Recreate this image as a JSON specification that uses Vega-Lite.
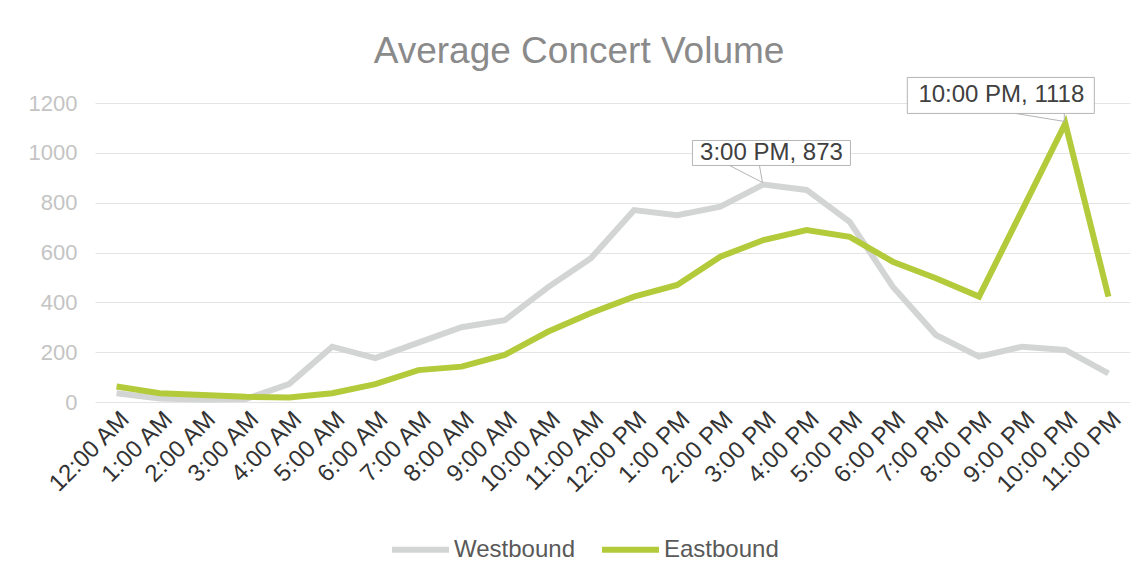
{
  "$schema": "https://vega.github.io/schema/vega-lite/v6.json",
  "width": 1145,
  "height": 585,
  "autosize": {"type": "fit", "contains": "padding"},
  "padding": {"left": 28, "top": 50, "right": 15, "bottom": 88},
  "background": "white",
  "config": {
    "font": "Liberation Sans",
    "view": {"stroke": null},
    "axis": {"gridColor": "#e4e4e4", "gridWidth": 1, "domain": false, "ticks": false}
  },
  "title": {
    "text": "Average Concert Volume",
    "fontSize": 37,
    "fontWeight": "normal",
    "color": "#8a8a8a",
    "font": "Liberation Sans",
    "anchor": "middle",
    "frame": "bounds",
    "offset": 4
  },
  "datasets": {
    "volume": [
      {"hour": "12:00 AM", "direction": "Westbound", "volume": 35},
      {"hour": "1:00 AM", "direction": "Westbound", "volume": 14},
      {"hour": "2:00 AM", "direction": "Westbound", "volume": 10},
      {"hour": "3:00 AM", "direction": "Westbound", "volume": 12},
      {"hour": "4:00 AM", "direction": "Westbound", "volume": 72},
      {"hour": "5:00 AM", "direction": "Westbound", "volume": 222},
      {"hour": "6:00 AM", "direction": "Westbound", "volume": 176},
      {"hour": "7:00 AM", "direction": "Westbound", "volume": 238},
      {"hour": "8:00 AM", "direction": "Westbound", "volume": 300},
      {"hour": "9:00 AM", "direction": "Westbound", "volume": 328},
      {"hour": "10:00 AM", "direction": "Westbound", "volume": 460},
      {"hour": "11:00 AM", "direction": "Westbound", "volume": 577},
      {"hour": "12:00 PM", "direction": "Westbound", "volume": 770},
      {"hour": "1:00 PM", "direction": "Westbound", "volume": 750},
      {"hour": "2:00 PM", "direction": "Westbound", "volume": 784},
      {"hour": "3:00 PM", "direction": "Westbound", "volume": 873},
      {"hour": "4:00 PM", "direction": "Westbound", "volume": 851},
      {"hour": "5:00 PM", "direction": "Westbound", "volume": 723},
      {"hour": "6:00 PM", "direction": "Westbound", "volume": 463},
      {"hour": "7:00 PM", "direction": "Westbound", "volume": 269},
      {"hour": "8:00 PM", "direction": "Westbound", "volume": 182},
      {"hour": "9:00 PM", "direction": "Westbound", "volume": 222},
      {"hour": "10:00 PM", "direction": "Westbound", "volume": 209},
      {"hour": "11:00 PM", "direction": "Westbound", "volume": 115},
      {"hour": "12:00 AM", "direction": "Eastbound", "volume": 62},
      {"hour": "1:00 AM", "direction": "Eastbound", "volume": 35},
      {"hour": "2:00 AM", "direction": "Eastbound", "volume": 28},
      {"hour": "3:00 AM", "direction": "Eastbound", "volume": 21},
      {"hour": "4:00 AM", "direction": "Eastbound", "volume": 18},
      {"hour": "5:00 AM", "direction": "Eastbound", "volume": 35},
      {"hour": "6:00 AM", "direction": "Eastbound", "volume": 72},
      {"hour": "7:00 AM", "direction": "Eastbound", "volume": 128},
      {"hour": "8:00 AM", "direction": "Eastbound", "volume": 142},
      {"hour": "9:00 AM", "direction": "Eastbound", "volume": 189},
      {"hour": "10:00 AM", "direction": "Eastbound", "volume": 282},
      {"hour": "11:00 AM", "direction": "Eastbound", "volume": 357},
      {"hour": "12:00 PM", "direction": "Eastbound", "volume": 423},
      {"hour": "1:00 PM", "direction": "Eastbound", "volume": 470},
      {"hour": "2:00 PM", "direction": "Eastbound", "volume": 583},
      {"hour": "3:00 PM", "direction": "Eastbound", "volume": 650},
      {"hour": "4:00 PM", "direction": "Eastbound", "volume": 690},
      {"hour": "5:00 PM", "direction": "Eastbound", "volume": 663},
      {"hour": "6:00 PM", "direction": "Eastbound", "volume": 563},
      {"hour": "7:00 PM", "direction": "Eastbound", "volume": 497},
      {"hour": "8:00 PM", "direction": "Eastbound", "volume": 423},
      {"hour": "9:00 PM", "direction": "Eastbound", "volume": 770},
      {"hour": "10:00 PM", "direction": "Eastbound", "volume": 1118},
      {"hour": "11:00 PM", "direction": "Eastbound", "volume": 423}
    ],
    "callouts": [
      {"hour": "3:00 PM", "volume": 873, "label": "3:00 PM, 873"},
      {"hour": "10:00 PM", "volume": 1118, "label": "10:00 PM, 1118"}
    ]
  },
  "encoding": {
    "x": {
      "field": "hour",
      "type": "ordinal",
      "sort": null,
      "title": null,
      "axis": {
        "labelAngle": -45,
        "labelFontSize": 24,
        "labelColor": "#333333",
        "labelPadding": 5,
        "grid": false
      }
    },
    "y": {
      "field": "volume",
      "type": "quantitative",
      "title": null,
      "scale": {"domain": [0, 1200]},
      "axis": {
        "values": [0, 200, 400, 600, 800, 1000, 1200],
        "format": "d",
        "labelFontSize": 22,
        "labelColor": "#c4c4c4",
        "labelPadding": 18,
        "grid": true
      }
    }
  },
  "layer": [
    {
      "data": {"name": "volume"},
      "mark": {"type": "line", "strokeWidth": 6},
      "encoding": {
        "color": {
          "field": "direction",
          "type": "nominal",
          "scale": {"domain": ["Westbound", "Eastbound"], "range": ["#d3d4d4", "#b3ca3a"]},
          "legend": {
            "orient": "none",
            "legendX": 294,
            "legendY": 415,
            "padding": 0,
            "direction": "horizontal",
            "title": null,
            "symbolType": "stroke",
            "symbolSize": 3249,
            "symbolStrokeWidth": 6,
            "labelFontSize": 24,
            "labelColor": "#595959",
            "labelOffset": 2,
            "columnPadding": 15
          }
        }
      }
    },
    {
      "data": {"name": "callouts"},
      "transform": [{"filter": "datum.hour === '3:00 PM'"}],
      "layer": [
        {
          "mark": {
            "type": "point",
            "shape": "M-0.71,-0.44L0.87,-0.44L0.87,-0.19L-0.71,-0.19Z M-0.34,-0.19L-0.01,-0.02 M-0.04,-0.19L-0.01,-0.02",
            "size": 40000,
            "filled": false,
            "fill": "white",
            "fillOpacity": 1,
            "stroke": "#b5b5b5",
            "strokeWidth": 1,
            "opacity": 1
          }
        },
        {
          "mark": {"type": "text", "fontSize": 24, "color": "#404040", "dx": 8, "dy": -31},
          "encoding": {"text": {"field": "label"}}
        }
      ]
    },
    {
      "data": {"name": "callouts"},
      "transform": [{"filter": "datum.hour === '10:00 PM'"}],
      "layer": [
        {
          "mark": {
            "type": "point",
            "shape": "M-1.58,-0.46L0.29,-0.46L0.29,-0.10L-1.58,-0.10Z M-0.50,-0.10L-0.01,-0.02 M-0.01,-0.10L-0.01,-0.02",
            "size": 40000,
            "filled": false,
            "fill": "white",
            "fillOpacity": 1,
            "stroke": "#b5b5b5",
            "strokeWidth": 1,
            "opacity": 1
          }
        },
        {
          "mark": {"type": "text", "fontSize": 24, "color": "#404040", "dx": -64, "dy": -28},
          "encoding": {"text": {"field": "label"}}
        }
      ]
    }
  ]
}
